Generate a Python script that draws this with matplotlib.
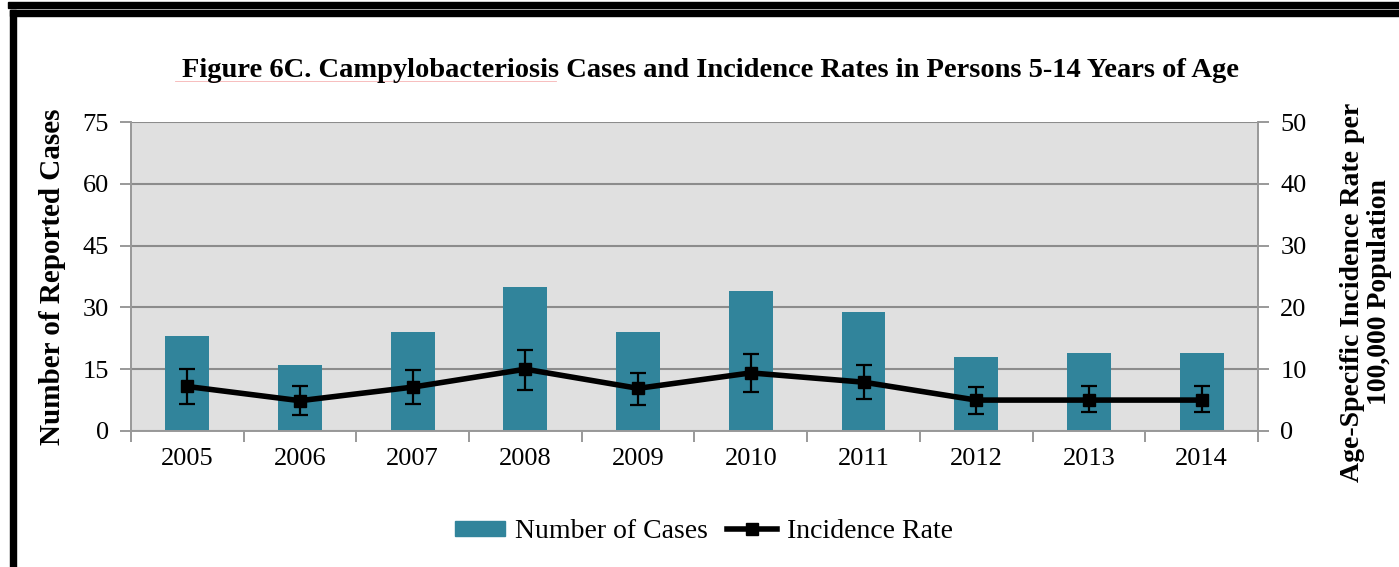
import matplotlib.pyplot as plt
import numpy as np
from matplotlib.patches import Rectangle
from matplotlib.lines import Line2D

# data
years = ['2005', '2006', '2007', '2008', '2009', '2010', '2011', '2012', '2013', '2014']
cases = [23, 16, 24, 35, 24, 34, 29, 18, 19, 19]
rate = [7.2, 4.9, 7.1, 10.0, 6.9, 9.4, 7.9, 5.0, 5.0, 5.0]
rate_hi = [10.0, 7.2, 9.8, 13.1, 9.4, 12.5, 10.7, 7.1, 7.3, 7.3]
rate_lo = [4.3, 2.6, 4.3, 6.7, 4.2, 6.3, 5.1, 2.8, 3.0, 3.0]

plt.rcParams['font.family'] = ['Liberation Serif', 'DejaVu Serif']

fig = plt.figure(figsize=(13.99, 5.67), dpi=100)
ax = fig.add_axes([0.0936, 0.2399, 0.8056, 0.5449])
ax2 = ax.twinx()

x = np.arange(len(years))
ax.set_facecolor('#e0e0e0')
ax.bar(x, cases, width=0.39, color='#31849b', zorder=2, label='Number of Cases')
ax.set_ylim(0, 75)
ax.set_yticks(range(0, 76, 15))
ax.set_xlim(-0.5, len(years) - 0.5)
ax.set_xticks(x)
ax.set_xticklabels(years)
ax.set_xticks(np.arange(-0.5, len(years)), minor=True)
ax.tick_params(axis='x', which='major', length=0, labelsize=19, pad=12)
ax.tick_params(axis='x', which='minor', length=8, color='#888888', width=1.2)
ax.tick_params(axis='y', length=8, color='#888888', width=1.2, labelsize=19, pad=8)
ax.yaxis.grid(True, color='#8c8c8c', linewidth=1.5, zorder=1)
ax.set_axisbelow(True)
ax.spines['top'].set_visible(False)
ax2.spines['top'].set_visible(False)
for s in ['left', 'right', 'bottom']:
    ax.spines[s].set_color('#999999')
    ax.spines[s].set_linewidth(1.2)
    ax2.spines[s].set_color('#999999')
    ax2.spines[s].set_linewidth(1.2)
ax.set_ylabel('Number of Reported Cases', fontsize=21, fontweight='bold', labelpad=12)

err = [np.array(rate) - np.array(rate_lo), np.array(rate_hi) - np.array(rate)]
ax2.errorbar(x, rate, yerr=err, color='black', linewidth=4, marker='s', markersize=9,
             ecolor='black', elinewidth=1.6, capsize=6, capthick=1.6, zorder=3,
             label='Incidence Rate')
ax2.set_ylim(0, 50)
ax2.set_yticks(range(0, 51, 10))
ax2.tick_params(axis='y', length=8, color='#888888', width=1.2, labelsize=19, pad=8)
ax2.set_ylabel('Age-Specific Incidence Rate per\n100,000 Population', fontsize=20,
               fontweight='bold', rotation=90, linespacing=1.1)
ax2.yaxis.set_label_coords(1.073, 0.45)

fig.text(0.508, 0.875, 'Figure 6C. Campylobacteriosis Cases and Incidence Rates in Persons 5-14 Years of Age',
         ha='center', va='center', fontsize=20.5, fontweight='bold')
# faint spell-check underline
fig.add_artist(Line2D([175 / 1399, 556 / 1399], [1 - 81 / 567, 1 - 81 / 567],
                      transform=fig.transFigure, color='#f6b3b3', linewidth=0.6))

# legend
handles = [Rectangle((0, 0), 1, 1, color='#31849b'),
           Line2D([0], [0], color='black', linewidth=4, marker='s', markersize=8)]
fig.legend(handles, ['Number of Cases', 'Incidence Rate'], loc='center',
           bbox_to_anchor=(0.503, 0.062), ncol=2, frameon=False, fontsize=20,
           handlelength=1.8, handleheight=0.5, handletextpad=0.35, columnspacing=0.7)

# page borders
fig.add_artist(Rectangle((8 / 1399, 1 - 8 / 567), 1, 6 / 567, transform=fig.transFigure,
                         color='black', zorder=10))
fig.add_artist(Rectangle((10 / 1399, 1 - 16 / 567), 1, 6 / 567, transform=fig.transFigure,
                         color='black', zorder=10))
fig.add_artist(Rectangle((10 / 1399, 0), 6 / 1399, 1 - 10 / 567, transform=fig.transFigure,
                         color='black', zorder=10))

fig.savefig('out.png', dpi=100)
